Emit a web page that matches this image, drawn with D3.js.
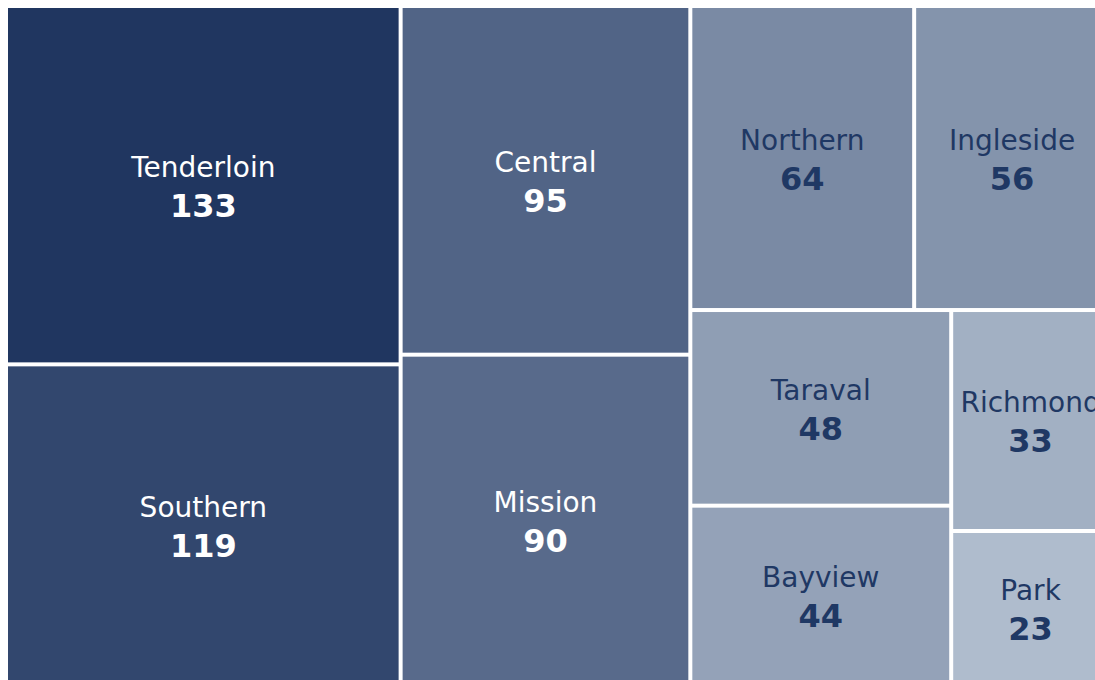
<!DOCTYPE html>
<html>
<head>
<meta charset="utf-8">
<script src="https://cdn.jsdelivr.net/npm/d3@7"></script>
<style>
  html, body { margin: 0; padding: 0; background: #fff; overflow: hidden; }
  svg { display: block; }
</style>
</head>
<body>
<div id="chart"></div>
<script>
// Districts and their counts
const districts = ["Tenderloin", "Southern", "Central", "Mission", "Northern",
    "Ingleside", "Taraval", "Bayview", "Richmond", "Park"];
const counts = [133, 119, 95, 90, 64, 56, 48, 44, 33, 23];

const width = 1095;
const height = 680;

// the treemap box runs a little past the right and bottom edges of the picture
const mapLeft = 8, mapTop = 8;
const mapWidth = 1100, mapHeight = 675;

const svg = d3.select("#chart")
    .append("svg")
    .attr("width", width)
    .attr("height", height);

const root = d3.hierarchy({
        children: districts.map((name, i) => ({ name: name, value: counts[i] }))
    })
    .sum(d => d.value || 0)
    .sort((a, b) => b.value - a.value);

d3.treemap()
    .tile(d3.treemapSquarify.ratio(1))
    .size([mapWidth, mapHeight])
    .paddingInner(4)(root);

const color = d3.scaleLinear()
    .domain([d3.min(counts), d3.max(counts)])
    .range(["#afbccd", "#203660"]);

const darkText = "#1f3864";

const g = svg.append("g")
    .attr("transform", `translate(${mapLeft},${mapTop})`);

const cell = g.selectAll("g")
    .data(root.leaves())
    .join("g")
    .attr("transform", d => `translate(${d.x0},${d.y0})`);

cell.append("rect")
    .attr("width", d => d.x1 - d.x0)
    .attr("height", d => d.y1 - d.y0)
    .attr("fill", d => color(d.value));

// name on top, count in bold under it
cell.append("text")
    .attr("x", d => (d.x1 - d.x0) / 2)
    .attr("y", d => (d.y1 - d.y0) / 2 - 8)
    .attr("text-anchor", "middle")
    .attr("font-family", "DejaVu Sans, sans-serif")
    .attr("font-size", "28px")
    .attr("fill", d => d.value >= 80 ? "#ffffff" : darkText)
    .text(d => d.data.name);

cell.append("text")
    .attr("x", d => (d.x1 - d.x0) / 2)
    .attr("y", d => (d.y1 - d.y0) / 2 + 32)
    .attr("text-anchor", "middle")
    .attr("font-family", "DejaVu Sans, sans-serif")
    .attr("font-size", "32px")
    .attr("font-weight", "bold")
    .attr("fill", d => d.value >= 80 ? "#ffffff" : darkText)
    .text(d => d.value);
</script>
</body>
</html>
